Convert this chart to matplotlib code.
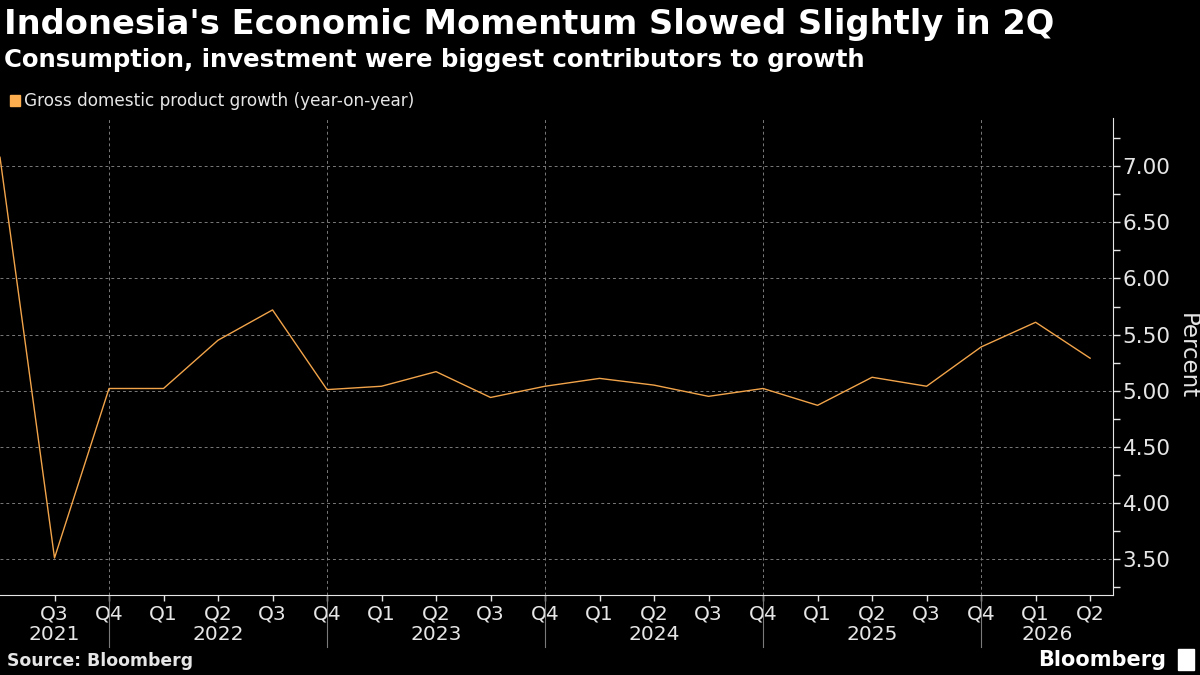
import matplotlib.pyplot as plt
import matplotlib.transforms as mtransforms
from matplotlib.patches import Rectangle

# GDP growth y/y, Q2 2021 .. Q2 2026
quarters = ["Q2", "Q3", "Q4", "Q1", "Q2", "Q3", "Q4", "Q1", "Q2", "Q3", "Q4",
            "Q1", "Q2", "Q3", "Q4", "Q1", "Q2", "Q3", "Q4", "Q1", "Q2"]
gdp_growth = [7.08, 3.51, 5.02, 5.02, 5.45, 5.72, 5.01, 5.04, 5.17, 4.94, 5.04,
              5.11, 5.05, 4.95, 5.02, 4.87, 5.12, 5.04, 5.39, 5.61, 5.29]
years = ["2021", "2022", "2023", "2024", "2025", "2026"]
year_breaks = [2, 6, 10, 14, 18]   # index of the Q4 separators
y_ticks = [3.5, 4.0, 4.5, 5.0, 5.5, 6.0, 6.5, 7.0]

BG = "black"
FG = "#e6e6e6"
LINE = "#f2a44a"
GRID = "#7a7a7a"

fig = plt.figure(figsize=(12, 6.75), dpi=100, facecolor=BG)
ax = fig.add_axes([0.0, 0.1185, 0.9275, 0.7067], facecolor=BG)

x = list(range(len(gdp_growth)))
x_max = 20.42
ax.plot(x, gdp_growth, color=LINE, linewidth=1.0, zorder=3)

ax.set_xlim(0, x_max)
ax.set_ylim(3.18, 7.43)

# y axis on the right
ax.yaxis.tick_right()
ax.yaxis.set_label_position("right")
ax.set_yticks(y_ticks)
ax.set_yticklabels([f"{v:.2f}" for v in y_ticks])
ax.set_yticks([v + 0.25 for v in y_ticks[:-1]] + [3.25, 7.25], minor=True)
ax.tick_params(axis="y", which="major", colors=FG, labelsize=15.5, length=5,
               width=1, pad=2)
ax.tick_params(axis="y", which="minor", colors=FG, length=5, width=1)
ax.set_ylabel("Percent", color=FG, fontsize=16.5, rotation=270, labelpad=20)

# x axis quarters
ax.set_xticks(x[1:])
ax.set_xticklabels(quarters[1:])
ax.tick_params(axis="x", colors=FG, labelsize=14.5, length=4, width=1, pad=3)

for s in ["top", "left"]:
    ax.spines[s].set_visible(False)
ax.spines["bottom"].set_color(FG)
ax.spines["right"].set_color(FG)

# grid
for v in y_ticks:
    ax.axhline(v, color=GRID, linestyle=(0, (3, 3)), linewidth=0.7, zorder=1)
for b in year_breaks:
    ax.axvline(b, color=GRID, linestyle=(0, (3, 3)), linewidth=0.7, zorder=1)
    ax.axvline(b, ymin=-0.109, ymax=0, color=GRID, linewidth=0.8,
               clip_on=False)

# year labels centred between separators
edges = [0] + year_breaks + [x_max]
trans = mtransforms.blended_transform_factory(ax.transData, ax.transAxes)
for i, yr in enumerate(years):
    ax.text((edges[i] + edges[i + 1]) / 2, -0.082, yr, transform=trans,
            ha="center", va="center", color=FG, fontsize=14.5)

# titles
fig.text(0.003, 0.963, "Indonesia's Economic Momentum Slowed Slightly in 2Q",
         color="white", fontsize=24.2, fontweight="bold", va="center")
fig.text(0.003, 0.911, "Consumption, investment were biggest contributors to growth",
         color="white", fontsize=17.6, fontweight="bold", va="center")

# legend
fig.patches.append(Rectangle((0.008, 0.843), 0.009, 0.016, color="#fdae4f",
                             transform=fig.transFigure))
fig.text(0.020, 0.851, "Gross domestic product growth (year-on-year)",
         color=FG, fontsize=12.2, va="center")

# footer
fig.text(0.006, 0.020, "Source: Bloomberg", color=FG, fontsize=12.4,
         fontweight="bold", va="center")
fig.text(0.972, 0.022, "Bloomberg", color="white", fontsize=15,
         fontweight="bold", va="center", ha="right")
fig.patches.append(Rectangle((0.982, 0.008), 0.013, 0.030, color="white",
                             transform=fig.transFigure))

fig.savefig("out.png", dpi=100, facecolor=BG)
